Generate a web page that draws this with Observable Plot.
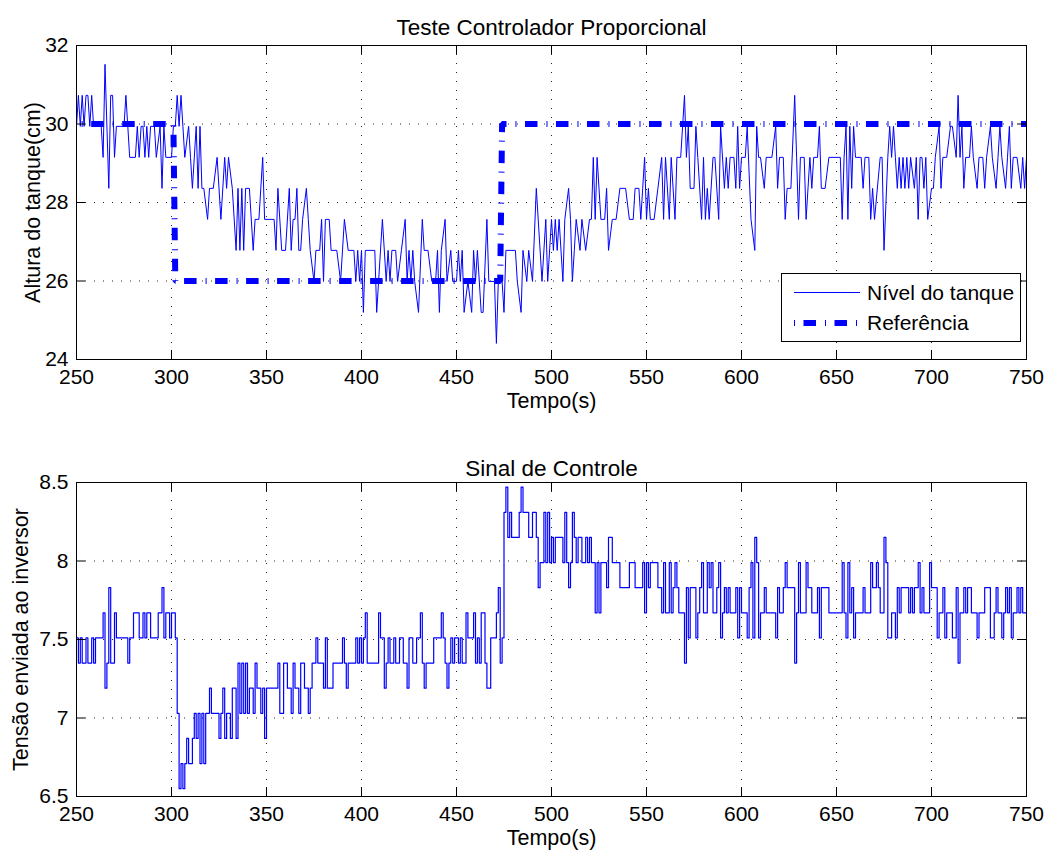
<!DOCTYPE html>
<html>
<head>
<meta charset="utf-8">
<script src="https://cdn.jsdelivr.net/npm/d3@7"></script>
<script src="https://cdn.jsdelivr.net/npm/@observablehq/plot@0.6"></script>
<style>
  html, body { margin: 0; padding: 0; background: #fff; }
  body { font-family: "Liberation Sans", Arial, Helvetica, sans-serif; }
  #fig { position: relative; width: 1050px; height: 857px; overflow: hidden; }
  #top { position: absolute; left: 0; top: 0; }
  #bottom { position: absolute; left: 0; top: 420px; }
  #legend { position: absolute; left: 781px; top: 273px; width: 238px; height: 67px;
            border: 1px solid #000; background: #fff; }
  #legend svg { display: block; }
</style>
</head>
<body>
<div id="fig">
  <div id="top"></div>
  <div id="bottom"></div>
  <div id="legend"></div>
</div>
<script>
// ---------------- data ----------------
const xTicks = [250, 300, 350, 400, 450, 500, 550, 600, 650, 700, 750];
const levelTicks = [24, 26, 28, 30, 32];
const ctrlTicks = [6.5, 7, 7.5, 8, 8.5];

const topTitle = "Teste Controlador Proporcional";
const bottomTitle = "Sinal de Controle";
const xLabel = "Tempo(s)";
const topYLabel = "Altura do tanque(cm)";
const bottomYLabel = "Tensão enviada ao inversor";
const seriesNames = ["Nível do tanque", "Referência"];

// Tank level (cm): sample times (s) and values
const levelTime = [
  250,251,252,253,254,255,256,257,258,259,263,264,265,267,268,269,270,271,275,276,
  277,278,281,282,283,284,285,286,287,288,289,291,292,294,295,296,297,300,301,302,
  303,304,305,306,307,309,310,311,313,314,315,316,317,319,320,322,324,326,328,329,
  330,332,334,335,336,337,338,339,341,343,344,346,347,348,349,
  354,355,356,358,360,362,363,364,365,366,367,368,369,371,372,373,375,376,378,379,
  380,381,383,384,387,389,391,393,396,397,398,399,400,401,402,407,408,411,413,414,
  415,416,418,419,421,423,424,425,426,427,428,430,432,433,435,437,439,440,441,442,
  444,445,447,
  448,450,451,452,453,454,456,458,459,460,461,463,464,466,467,470,471,472,474,475,
  476,481,482,484,485,487,488,490,492,495,497,498,500,501,502,503,504,506,507,509,
  510,511,512,513,515,516,518,520,521,522,523,524,526,528,529,530,532,534,536,539,
  541,543,544,546,547,548,549,550,551,552,554,556,558,559,560,562,563,565,566,568,
  570,571,572,573,575,576,577,579,580,581,582,583,585,586,588,589,591,592,593,594,
  596,597,598,599,600,
  602,603,605,607,608,609,610,612,613,616,618,619,620,622,623,624,626,628,629,630,
  631,633,634,636,637,638,640,641,642,644,646,652,653,654,655,656,657,658,659,660,
  663,664,665,667,668,669,670,673,674,675,677,678,679,680,681,682,683,684,685,686,
  687,688,689,691,692,693,694,695,696,697,698,700,701,702,704,705,706,708,710,711,
  713,714,715,716,717,718,720,721,722,724,725,727,728,729,731,732,734,735,736,737,
  739,740,741,742,743,745,747,748,749,750
];
const levelValue = [
  29.94,30.73,29.94,30.73,29.94,30.73,30.73,29.94,30.73,29.94,
  29.94,29.15,31.52,28.36,30.73,30.73,29.15,29.94,
  29.94,30.73,29.94,29.15,
  29.15,29.94,29.15,29.94,29.94,29.15,29.94,29.15,29.94,
  29.94,29.15,29.94,28.36,29.94,29.15,
  29.15,29.94,29.94,30.73,29.94,30.73,29.94,29.15,
  29.94,29.15,28.36,
  29.94,28.36,29.94,28.36,28.36,
  27.57,28.36,28.36,29.15,27.57,29.15,28.36,29.15,28.36,
  26.78,28.36,26.78,28.36,26.78,28.36,
  28.36,26.78,27.57,27.57,28.36,29.15,27.57,
  27.57,26.78,28.36,26.78,26.78,
  28.36,26.78,27.57,27.57,28.36,26.78,26.78,27.57,
  28.36,27.57,26.78,25.99,26.78,26.78,27.57,25.99,27.57,27.57,26.78,
  26.78,25.99,27.57,26.78,26.78,25.99,26.78,25.99,26.78,25.20,26.78,
  26.78,25.20,27.57,25.99,26.78,25.99,26.78,26.78,25.99,
  26.78,27.57,25.99,26.78,25.99,26.78,25.99,25.20,27.57,26.78,26.78,25.99,25.99,26.78,25.20,26.78,27.57,25.99,26.78,
  25.99,25.99,26.78,25.99,26.78,25.20,25.99,25.20,26.78,25.99,
  26.78,25.20,25.20,27.57,25.99,25.99,24.41,25.99,25.99,25.20,
  26.78,26.78,25.99,25.20,26.78,25.99,26.78,25.99,28.36,25.99,
  27.57,25.99,27.57,26.78,27.57,26.78,27.57,25.99,27.57,28.36,
  27.57,25.99,26.78,27.57,26.78,27.57,26.78,27.57,27.57,29.15,
  27.57,29.15,27.57,27.57,28.36,26.78,27.57,27.57,28.36,28.36,
  27.57,27.57,28.36,28.36,27.57,28.36,29.15,27.57,28.36,27.57,
  27.57,28.36,29.15,27.57,29.15,27.57,29.15,27.57,29.15,29.15,
  30.73,29.15,29.94,28.36,28.36,29.94,29.15,27.57,29.15,27.57,
  28.36,27.57,29.15,29.15,27.57,29.94,28.36,29.15,28.36,29.15,
  29.15,28.36,29.94,28.36,29.15,
  29.15,29.94,27.57,26.78,29.94,29.15,29.15,28.36,29.15,29.15,
  29.94,28.36,29.15,29.15,27.57,28.36,28.36,30.73,29.15,27.57,
  29.15,29.15,27.57,29.15,28.36,29.15,29.15,29.94,28.36,28.36,
  29.15,29.15,27.57,29.15,29.94,27.57,29.94,28.36,29.94,29.15,
  29.15,28.36,29.15,29.15,27.57,28.36,27.57,29.15,29.15,26.78,
  29.15,29.94,29.15,29.94,29.15,28.36,29.15,28.36,29.15,28.36,
  29.15,28.36,29.15,28.36,29.15,27.57,29.15,29.15,28.36,29.15,
  27.57,28.36,28.36,29.15,29.94,28.36,29.15,29.15,29.94,29.94,
  29.15,30.73,29.15,29.94,28.36,29.15,29.15,29.94,29.15,28.36,
  29.15,29.15,28.36,29.15,29.94,29.15,28.36,29.15,29.94,29.15,
  28.36,29.15,29.94,28.36,29.15,29.15,28.36,29.15,28.36,29.15
];

// Reference (set point, cm)
const refTime = [250, 301, 302, 473, 474, 750];
const refValue = [30, 30, 26, 26, 30, 30];

// Control signal (V): change times (s) and held values
const ctrlTime = [
  250,251,252,253,255,256,258,259,260,264, 265,266,267,268,270,271,277,278,280,283,
  285,286,287,289,293,295,296,297,299,300, 302,303,304,305,306,307,308,309,311,312,
  313,314,315,316,317,318,320,321,325,326, 327,328,329,331,332,334,335,336,337,338,
  339,340,341,343,344,345,347,348,349,350, 356,357,359,361,363,364,365,367,368,370,
  372,373,374,376,377,380,381,382,385,390, 391,392,393,397,398,399,400,401,402,403,
  409,410,412,413,414,415,417,418,420,422, 424,425,427,429,431,432,433,434,438,442,
  443,444,445,446,447,448,449,451,452,453, 455,456,459,460,461,462,463,465,466,468,
  471,472,473,474,475,476,477,478,479,483, 484,485,488,490,492,493,494,496,497,498,
  499,500,501,502,506,507,508,509,510,511, 512,513,514,516,518,519,520,521,523,524,
  525,526,529,530,532,536,541,544,548,549, 550,551,552,556,558,559,560,562,563,564,
  565,566,567,570,571,572,573,576,577,578, 579,580,582,583,584,585,587,588,589,590,
  591,592,593,594,597,598,599,600,603,604, 605,606,607,608,609,610,612,613,618,619,
  620,622,623,624,628,629,630,631,634,635, 637,640,641,642,646,653,654,655,656,657,
  658,659,660,664,665,668,669,671,672,673, 675,676,677,679,681,682,683,684,688,689,
  690,691,693,694,695,696,699,700,703,704, 706,707,708,711,713,714,715,717,718,719,
  721,724,725,728,731,733,734,735,737,738, 739,740,741,742,743,745,746,747,748,750
];
const ctrlValue = [
  7.51,7.35,7.51,7.35,7.51,7.35,7.51,7.35,7.51,7.67, 7.19,7.35,7.83,7.35,7.67,7.51,7.35,7.51,7.67,7.51,
  7.67,7.51,7.67,7.51,7.67,7.83,7.51,7.67,7.51,7.67, 7.51,7.03,6.55,6.71,6.55,6.71,6.87,6.71,6.87,7.03,
  6.87,7.03,6.71,7.03,6.71,7.03,7.19,7.03,6.87,7.03, 7.19,6.87,7.03,6.87,7.19,6.87,7.35,7.03,7.35,7.03,
  7.35,7.03,7.19,7.03,7.35,7.19,7.03,7.19,6.87,7.19, 7.35,7.03,7.35,7.19,7.03,7.35,7.19,7.03,7.35,7.19,
  7.03,7.19,7.35,7.51,7.35,7.19,7.51,7.19,7.35,7.51, 7.35,7.19,7.35,7.51,7.35,7.51,7.35,7.51,7.67,7.35,
  7.67,7.51,7.19,7.35,7.51,7.35,7.51,7.35,7.51,7.35, 7.19,7.51,7.35,7.51,7.67,7.35,7.19,7.35,7.51,7.67,
  7.51,7.35,7.19,7.35,7.51,7.35,7.51,7.35,7.51,7.35, 7.67,7.51,7.67,7.35,7.51,7.35,7.67,7.35,7.19,7.51,
  7.67,7.83,7.35,7.51,8.31,8.47,8.15,8.31,8.15,8.31, 8.47,8.31,8.15,8.31,8.15,7.83,7.99,8.31,7.99,8.31,
  7.99,8.15,7.99,8.15,7.99,8.31,7.99,7.83,7.99,8.31, 8.15,7.99,8.15,7.99,8.15,7.99,8.15,7.99,7.67,7.99,
  7.67,7.99,7.83,8.15,7.99,7.83,7.99,7.83,7.99,7.67, 7.99,7.83,7.99,7.83,7.67,7.99,7.67,7.99,7.67,7.83,
  7.99,7.83,7.67,7.35,7.83,7.51,7.83,7.51,7.67,7.83, 7.99,7.67,7.99,7.83,7.99,7.67,7.83,7.99,7.51,7.67,
  7.83,7.67,7.83,7.67,7.83,7.51,7.83,7.67,7.51,7.83, 7.99,7.51,8.15,7.99,7.51,7.67,7.83,7.67,7.51,7.83,
  7.67,7.83,7.99,7.83,7.35,7.67,7.99,7.67,7.99,7.83, 7.67,7.83,7.51,7.83,7.67,7.99,7.67,7.51,7.99,7.67,
  7.83,7.51,7.67,7.83,7.67,7.99,7.83,7.99,7.83,7.67, 8.15,7.99,7.51,7.67,7.51,7.83,7.67,7.83,7.67,7.83,
  7.67,7.83,7.99,7.67,7.83,7.67,7.99,7.83,7.51,7.67, 7.83,7.51,7.67,7.51,7.83,7.35,7.67,7.83,7.67,7.83,
  7.67,7.51,7.67,7.83,7.51,7.67,7.83,7.67,7.51,7.67, 7.83,7.67,7.83,7.51,7.67,7.83,7.67,7.83,7.67,7.67
];

// ---------------- drawing ----------------
const BLUE = "#0000ff";
const FONT = "'Liberation Sans', Arial, Helvetica, sans-serif";
const W = 1050, ML = 76, MR = 24;
const refDash = "12.5,9,1,8.5";

const levelData = levelTime.map((t, i) => ({t, v: levelValue[i]}));
const refData = refTime.map((t, i) => ({t, v: refValue[i]}));
const ctrlData = ctrlTime.map((t, i) => ({t, v: ctrlValue[i]}));

function panel({height, marginTop, marginBottom, yDomain, yTicks, title, titleDy, yLabel, yLabelDx, xLabelDy, marks}) {
  const plotH = height - marginTop - marginBottom;
  const plotW = W - ML - MR;
  const tick = 9;
  return Plot.plot({
    width: W, height, marginLeft: ML, marginRight: MR, marginTop, marginBottom,
    style: {fontFamily: FONT, fontSize: "21px", color: "#000", background: "#fff", overflow: "visible"},
    x: {domain: [250, 750]},
    y: {domain: yDomain},
    marks: [
      Plot.gridX(xTicks, {stroke: "#000", strokeOpacity: 0.85, strokeWidth: 1, strokeDasharray: "1,8"}),
      Plot.gridY(yTicks, {stroke: "#000", strokeOpacity: 0.85, strokeWidth: 1, strokeDasharray: "1,8"}),
      ...marks,
      Plot.frame({stroke: "#000", strokeWidth: 1}),
      Plot.tickX(xTicks, {x: d => d, insetTop: plotH - tick, stroke: "#000"}),
      Plot.tickX(xTicks, {x: d => d, insetBottom: plotH - tick, stroke: "#000"}),
      Plot.tickY(yTicks, {y: d => d, insetRight: plotW - tick, stroke: "#000"}),
      Plot.tickY(yTicks, {y: d => d, insetLeft: plotW - tick, stroke: "#000"}),
      Plot.axisX(xTicks, {tickSize: 0, tickPadding: 10, label: null, tickFormat: d => String(d)}),
      Plot.axisY(yTicks, {tickSize: 0, tickPadding: 8, label: null, tickFormat: d => String(d)}),
      Plot.text([title], {text: d => d, frameAnchor: "top", dy: titleDy, fontSize: 22.5, textAnchor: "middle"}),
      Plot.text([xLabel], {text: d => d, frameAnchor: "bottom", dy: xLabelDy, fontSize: 21.5, textAnchor: "middle"}),
      Plot.text([yLabel], {text: d => d, frameAnchor: "left", rotate: -90, dx: yLabelDx, fontSize: 21.5, textAnchor: "middle"})
    ]
  });
}

const topPlot = panel({
  height: 420, marginTop: 45, marginBottom: 61,
  yDomain: [24, 32], yTicks: levelTicks,
  title: topTitle, titleDy: -26, yLabel: topYLabel, yLabelDx: -43, xLabelDy: 48,
  marks: [
    Plot.line(levelData, {x: "t", y: "v", stroke: BLUE, strokeWidth: 1, curve: "linear"}),
    Plot.line(refData, {x: "t", y: "v", stroke: BLUE, strokeWidth: 6, strokeDasharray: refDash,
      strokeDashoffset: 16.3, strokeLinecap: "butt", strokeLinejoin: "miter"})
  ]
});
document.getElementById("top").appendChild(topPlot);

const bottomPlot = panel({
  height: 437, marginTop: 62, marginBottom: 61,
  yDomain: [6.5, 8.5], yTicks: ctrlTicks,
  title: bottomTitle, titleDy: -22, yLabel: bottomYLabel, yLabelDx: -55, xLabelDy: 48,
  marks: [
    Plot.line(ctrlData, {x: "t", y: "v", stroke: BLUE, strokeWidth: 1.2, curve: "step-after"})
  ]
});
document.getElementById("bottom").appendChild(bottomPlot);

// Legend (top panel)
const lg = d3.select("#legend").append("svg").attr("width", 238).attr("height", 67);
lg.append("line").attr("x1", 12).attr("x2", 78).attr("y1", 18.5).attr("y2", 18.5)
  .attr("stroke", BLUE).attr("stroke-width", 1);
lg.append("line").attr("x1", 12).attr("x2", 78).attr("y1", 49).attr("y2", 49)
  .attr("stroke", BLUE).attr("stroke-width", 6).attr("stroke-dasharray", "1,8.5,12.5,9");
lg.selectAll("text").data(seriesNames).join("text")
  .attr("x", 85).attr("y", (d, i) => i === 0 ? 18.5 : 49).attr("dy", "0.35em")
  .attr("font-family", FONT).attr("font-size", 21).attr("fill", "#000").text(d => d);
</script>
</body>
</html>
